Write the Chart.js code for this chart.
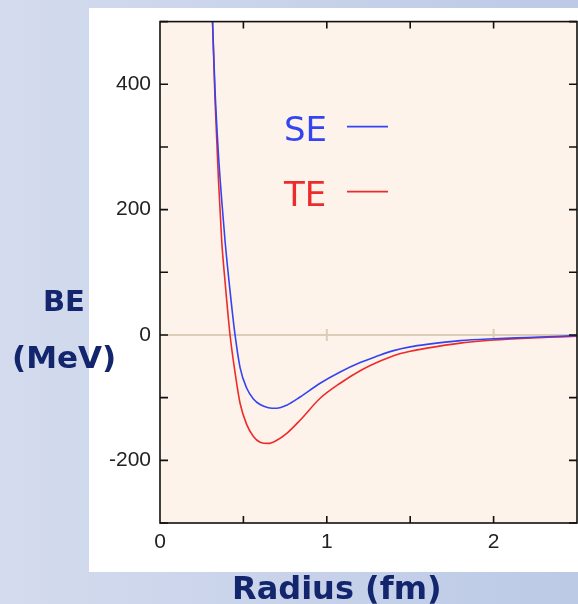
<!DOCTYPE html>
<html>
<head>
<meta charset="utf-8">
<script src="https://cdn.jsdelivr.net/npm/chart.js@4"></script>
<style>
  body { margin: 0; width: 578px; height: 604px; overflow: hidden;
         background: linear-gradient(to right, #d4dbee, #bccae6); position: relative; }
  #panel { position: absolute; left: 89px; top: 8px; width: 489px; height: 564px; background: #fff; }
  #wrap { position: absolute; left: 0; top: 0; }
  .title { position: absolute; font-family: "DejaVu Sans", Verdana, sans-serif; font-weight: bold;
           color: #13266d; font-size: 29px; white-space: nowrap; }
</style>
</head>
<body>
<div id="panel"></div>
<div id="wrap"><canvas id="bechart" width="578" height="604"></canvas></div>
<div class="title" style="left:43px; top:284px;">BE</div>
<div class="title" style="left:12px; top:339px; font-size:31px;">(MeV)</div>
<div class="title" style="left:232px; top:569px; font-size:32px;">Radius (fm)</div>
<script>
// radius grid (fm) and binding energy (MeV) for both curves
const radius = [0.315, 0.33, 0.35, 0.37, 0.39, 0.42, 0.45, 0.48, 0.52, 0.56, 0.6, 0.65, 0.7,
  0.76, 0.84, 0.96, 1.08, 1.2, 1.3, 1.4, 1.5, 1.6, 1.8, 2.0, 2.2, 2.4, 2.5];
const seEnergy = [500, 390, 290, 215, 150, 70, 0, -52, -85, -102, -111, -116, -117,
  -112, -99, -77, -59, -44, -34, -25, -19, -15, -9, -6, -4, -2, -1];
const teEnergy = [500, 375, 250, 150, 85, 0, -60, -109, -143, -162, -171, -173, -168,
  -157, -136, -101, -77, -57, -44, -33, -26, -21, -13, -8, -5, -3, -2];
const seriesNames = ['SE', 'TE'];
const seriesColors = ['#3444f2', '#ee2b2b'];

const xTicks = [0, 1, 2];
const yTicks = [400, 200, 0, -200];

const toPoints = (vals) => radius.map((r, i) => ({ x: r, y: vals[i] }));

// plot frame, inward tick marks, zero line and the in-plot legend
const framePlugin = {
  id: 'frame',
  beforeDraw(chart) {
    const { ctx, chartArea: a } = chart;
    ctx.save();
    ctx.fillStyle = '#fdf3ea';
    ctx.fillRect(a.left, a.top, a.right - a.left, a.bottom - a.top);
    ctx.restore();
  },
  beforeDatasetsDraw(chart) {
    const { ctx, chartArea: a, scales } = chart;
    const y0 = scales.y.getPixelForValue(0);
    ctx.save();
    ctx.strokeStyle = '#dccdb6';
    ctx.lineWidth = 2;
    ctx.beginPath();
    ctx.moveTo(a.left, y0);
    ctx.lineTo(a.right, y0);
    [1, 2].forEach(v => {
      const px = scales.x.getPixelForValue(v);
      ctx.moveTo(px, y0 - 6);
      ctx.lineTo(px, y0 + 6);
    });
    ctx.stroke();
    ctx.restore();
  },
  afterDraw(chart) {
    const { ctx, chartArea: a, scales } = chart;
    ctx.save();
    ctx.strokeStyle = '#111';
    ctx.lineWidth = 1.6;
    ctx.strokeRect(a.left, a.top, a.right - a.left, a.bottom - a.top);
    ctx.beginPath();
    for (let v = -300; v <= 500; v += 100) {
      const py = scales.y.getPixelForValue(v);
      ctx.moveTo(a.left, py); ctx.lineTo(a.left + 8, py);
      ctx.moveTo(a.right, py); ctx.lineTo(a.right - 8, py);
    }
    for (let v = 0.5; v < 2.5; v += 0.5) {
      const px = scales.x.getPixelForValue(v);
      ctx.moveTo(px, a.bottom); ctx.lineTo(px, a.bottom - 7);
      ctx.moveTo(px, a.top); ctx.lineTo(px, a.top + 7);
    }
    ctx.stroke();

    ctx.font = '34px "DejaVu Sans"';
    ctx.textBaseline = 'alphabetic';
    seriesNames.forEach((name, i) => {
      const ty = a.top + 119 + i * 65;
      ctx.fillStyle = seriesColors[i];
      ctx.fillText(name, a.left + 124, ty);
      ctx.strokeStyle = seriesColors[i];
      ctx.lineWidth = 1.6;
      ctx.beginPath();
      ctx.moveTo(a.left + 187, ty - 14);
      ctx.lineTo(a.left + 228, ty - 14);
      ctx.stroke();
    });
    ctx.restore();
  }
};

const tickFont = { family: '"Liberation Sans", Arial, sans-serif', size: 21 };
const noGrid = { display: false, drawTicks: false, tickLength: 0 };

const bechart = new Chart(document.getElementById('bechart'), {
  type: 'line',
  data: {
    datasets: [
      { label: seriesNames[0], data: toPoints(seEnergy), borderColor: seriesColors[0] },
      { label: seriesNames[1], data: toPoints(teEnergy), borderColor: seriesColors[1] }
    ].map(d => Object.assign(d, {
      borderWidth: 1.6, pointRadius: 0, fill: false, cubicInterpolationMode: 'monotone'
    }))
  },
  options: {
    responsive: false,
    animation: false,
    devicePixelRatio: 1,
    layout: { padding: { left: 0, right: 1, top: 17, bottom: 0 } },
    plugins: { legend: { display: false }, tooltip: { enabled: false } },
    scales: {
      x: {
        type: 'linear', min: 0, max: 2.5,
        border: { display: false },
        grid: noGrid,
        afterFit: s => { s.height = 81; },
        afterBuildTicks: s => { s.ticks = xTicks.map(v => ({ value: v })); },
        ticks: { font: tickFont, color: '#222', padding: 7, maxRotation: 0,
                 callback: v => String(v) }
      },
      y: {
        min: -300, max: 500,
        border: { display: false },
        grid: noGrid,
        afterFit: s => { s.width = 160; },
        afterBuildTicks: s => { s.ticks = yTicks.map(v => ({ value: v })); },
        ticks: { font: tickFont, color: '#222', padding: 9,
                 callback: v => String(v) }
      }
    }
  },
  plugins: [framePlugin]
});
</script>
</body>
</html>
